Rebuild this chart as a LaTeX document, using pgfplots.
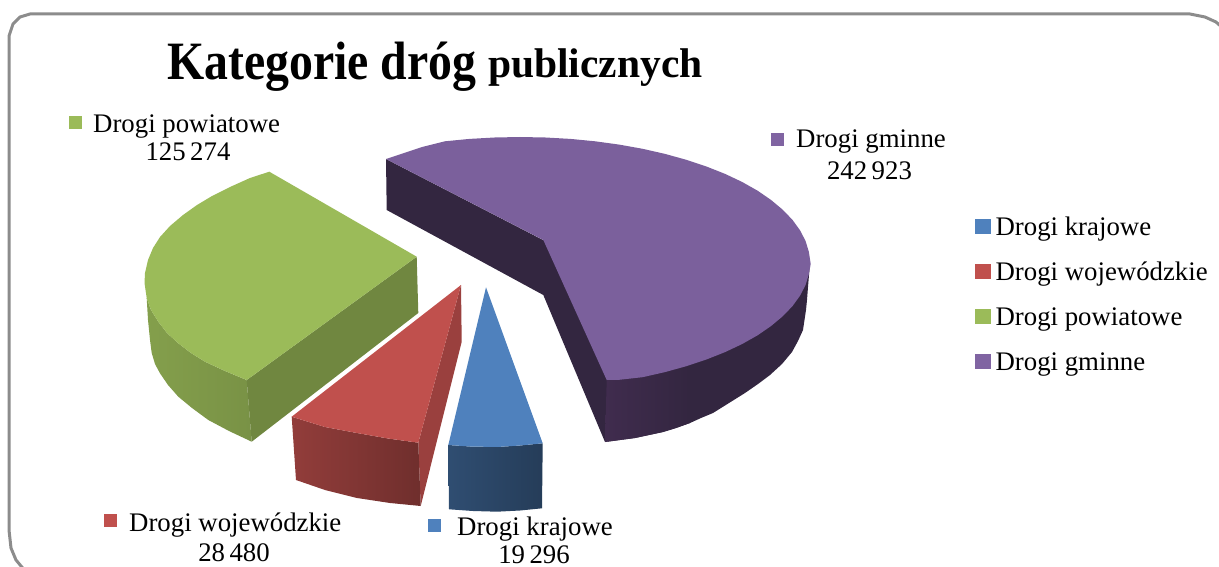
\documentclass[border=0pt]{standalone}
\usepackage{pgfplots}
\usepackage{fontspec}
\setmainfont{Liberation Serif}
\pgfplotsset{compat=1.18}
\definecolor{cgreen}{HTML}{9BBB59}
\definecolor{cred}{HTML}{C0504D}
\definecolor{cblue}{HTML}{4F81BD}
\definecolor{cpurple}{HTML}{8064A2}
\newcommand{\lab}{\fontsize{26.8}{28}\selectfont}
\begin{document}
\begin{tikzpicture}
\path[use as bounding box] (0,0) rectangle (1219pt,567pt);
\begin{axis}[
	at={(0,0)}, anchor=south west,
	scale only axis,
	width=1219pt, height=567pt,
	xmin=0, xmax=1219,
	ymin=0, ymax=567,
	y dir=reverse,
	hide axis,
	legend cell align=left,
	legend style={
		at={(axis cs:975,217)}, anchor=north west,
		draw=none, fill=none,
		font=\lab,
		row sep=21pt,
		inner sep=0pt,
		nodes={text height=18pt, text depth=6pt, inner xsep=5.5pt, inner ysep=0pt},
	},
	legend image code/.code={\fill[#1] (0pt,-4pt) rectangle (14.5pt,10.5pt);},
]
	% frame
	\addplot[forget plot, color=black!45, line width=3pt] coordinates {
		(1225,30) (1216,22) (1205,17) (1190,14) (30,14) (20,17) (13,24) (9,36) (9,530) (11,548) (16,560) (26,572)
	};

	% Drogi gminne
	\addplot[forget plot, draw=none, fill={rgb,255:red,51;green,38;blue,64}] coordinates {
		(386,159) (386.7,210) (543.3,295) (605,442) (620,440) (635,438) (649,435) (663,432) (676,428) (690,423) (701,418) (713,413) (729,403) (745,393) (758,384) (770,375) (782,364) (792,352) (798,341) (803,330) (804.5,320) (806,310) (807,300) (808,287) (810,263) (700,300) (543,240)
	} -- cycle;
	\addplot[forget plot, draw=none, left color={rgb,255:red,64;green,44;blue,78}, right color={rgb,255:red,51;green,38;blue,64}] coordinates {
		(606.7,380) (605,442) (620,440) (635,438) (649,435) (663,432) (676,428) (690,423) (690,365) (640,376)
	} -- cycle;
	\addplot[forget plot, draw=none, fill=cpurple!96!black] coordinates {
		(386,159) (422,147) (444.9,141.3) (469.6,138.9) (494.7,137.5) (520,137) (545.3,137.5) (570.4,138.9) (595.1,141.3) (619.2,144.6) (642.6,148.8) (665,153.9) (686.3,159.8) (706.4,166.5) (725.1,173.9) (742.2,182) (757.6,190.7) (771.1,200) (782.8,209.8) (792.5,219.9) (800.1,230.4) (805.6,241.1) (808.9,252) (810.7,264)
		(808.9,274) (805.6,284.9) (800.1,295.6) (792.5,306.1) (782.8,316.2) (771.1,326) (757.6,335.3) (742.2,344) (725.1,352.1) (706.4,359.5) (686.3,366.2) (665,372.1) (642.6,377.2) (619.2,379.8) (606.7,380) (543.3,240)
	} -- cycle;

	% Drogi powiatowe
	\addplot[forget plot, draw=none, left color=cgreen!85!black, right color=cgreen!78!black] coordinates {
		(146.7,298) (151,310) (158.3,321.7) (167,333) (178.3,343.3) (191,353) (205,361.7) (225,371) (246.7,380)
		(251.7,441.7) (229,431) (208.3,420) (192,408) (178.3,396.7) (168,385) (160,373.3) (155,364) (151.7,353) (150,340) (148,320)
	} -- cycle;
	\addplot[forget plot, draw=none, fill=cgreen!72!black] coordinates {
		(416.7,256.7) (418.3,313) (251.7,441.7) (246.7,380)
	} -- cycle;
	\addplot[forget plot, draw=none, fill=cgreen] coordinates {
		(269.3,171.7) (250,178) (230,187) (212,196) (197,205) (183,215) (170,226) (160,237) (153,248) (148,260) (145,273)
		(144.5,283) (146.7,298) (151,310) (158.3,321.7) (167,333) (178.3,343.3) (191,353) (205,361.7) (225,371) (246.7,380) (416.7,256.7)
	} -- cycle;

	% Drogi wojewodzkie
	\addplot[forget plot, draw=none, fill=cred!80!black] coordinates {
		(461,285) (461.7,341.7) (420.7,506) (418.3,442.7)
	} -- cycle;
	\addplot[forget plot, draw=none, left color=cred!76!black, right color=cred!58!black] coordinates {
		(291.7,416.7) (296,480) (325,490) (357,498) (390,503) (420.7,506) (418.3,442.7) (388,438.5) (357,433) (325,427)
	} -- cycle;
	\addplot[forget plot, draw=none, fill=cred] coordinates {
		(461,285) (291.7,416.7) (325,427) (357,433) (388,438.5) (418.3,442.7)
	} -- cycle;

	% Drogi krajowe
	\addplot[forget plot, draw=none, left color=cblue!60!black, right color=cblue!47!black] coordinates {
		(448.3,445) (449,509.3) (473,511) (497,511.7) (520,510.5) (542,508.3) (542.7,443.3) (520,445.5) (497,447) (470,446.5)
	} -- cycle;
	\addplot[forget plot, draw=none, fill=cblue] coordinates {
		(486,287.3) (448.3,445) (470,446.5) (497,447) (520,445.5) (542.7,443.3)
	} -- cycle;

	% squares next to the data labels
	\addplot[forget plot, only marks, mark=square*, mark size=6pt, color=cgreen] coordinates {(75,122)};
	\addplot[forget plot, only marks, mark=square*, mark size=6pt, color=cpurple] coordinates {(777,139)};
	\addplot[forget plot, only marks, mark=square*, mark size=6pt, color=cred] coordinates {(110,520)};
	\addplot[forget plot, only marks, mark=square*, mark size=6pt, color=cblue] coordinates {(434,525)};

	% title
	\node[anchor=base west, inner sep=0pt, xscale=0.885] at (axis cs:167,80) {\fontsize{54}{54}\selectfont\bfseries Kategorie dróg};
	\node[anchor=base west, inner sep=0pt] at (axis cs:488,78) {\fontsize{41.5}{41}\selectfont\bfseries publicznych};

	% data labels
	\node[anchor=base west, inner sep=0pt, font=\lab] at (axis cs:93,133) {Drogi powiatowe};
	\node[anchor=base, inner sep=0pt, font=\lab] at (axis cs:188,161) {125\,274};
	\node[anchor=base west, inner sep=0pt, font=\lab] at (axis cs:796,148) {Drogi gminne};
	\node[anchor=base, inner sep=0pt, font=\lab] at (axis cs:869.5,179) {242\,923};
	\node[anchor=base west, inner sep=0pt, font=\lab] at (axis cs:129,531) {Drogi wojewódzkie};
	\node[anchor=base, inner sep=0pt, font=\lab] at (axis cs:234,561) {28\,480};
	\node[anchor=base west, inner sep=0pt, font=\lab] at (axis cs:457,535) {Drogi krajowe};
	\node[anchor=base, inner sep=0pt, font=\lab] at (axis cs:534,563.5) {19\,296};

	% legend
	\addlegendimage{cblue}
	\addlegendentry{Drogi krajowe}
	\addlegendimage{cred}
	\addlegendentry{Drogi wojewódzkie}
	\addlegendimage{cgreen}
	\addlegendentry{Drogi powiatowe}
	\addlegendimage{cpurple}
	\addlegendentry{Drogi gminne}
\end{axis}
\end{tikzpicture}
\end{document}
